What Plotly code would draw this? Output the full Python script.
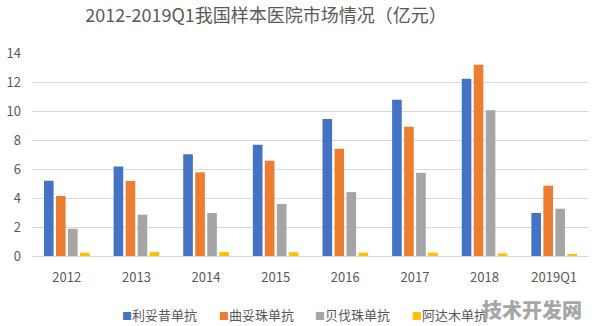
import plotly.graph_objects as go

categories = ["2012", "2013", "2014", "2015", "2016", "2017", "2018", "2019Q1"]
series_names = ["利妥昔单抗", "曲妥珠单抗", "贝伐珠单抗", "阿达木单抗"]
rituximab = [5.19, 6.18, 7.01, 7.68, 9.45, 10.78, 12.23, 2.97]
trastuzumab = [4.14, 5.17, 5.77, 6.57, 7.40, 8.92, 13.19, 4.85]
bevacizumab = [1.88, 2.85, 2.97, 3.59, 4.41, 5.74, 10.05, 3.26]
adalimumab = [0.23, 0.28, 0.28, 0.26, 0.23, 0.23, 0.18, 0.07]
colors = ["#4472C4", "#ED7D31", "#A5A5A5", "#FFC000"]
y_ticks = [0, 2, 4, 6, 8, 10, 12, 14]
title_text = "2012-2019Q1我国样本医院市场情况（亿元）"
watermark = "技术开发网"

FONT = "Noto Sans CJK SC, Microsoft YaHei, sans-serif"
W, H = 596, 326
ML, MR, MT, MB = 32, 7, 53, 70
PW, PH = W - ML - MR, H - MT - MB


def px_x(px):
    return (px - ML) / PW


def px_y(py):
    return (H - MB - py) / PH


fig = go.Figure()
for name, vals, c in zip(series_names, [rituximab, trastuzumab, bevacizumab, adalimumab], colors):
    fig.add_trace(go.Bar(x=categories, y=vals, name=name, showlegend=False,
                         marker=dict(color=c, line=dict(width=0))))

annotations = []
for i, (name, c) in enumerate(zip(series_names, colors)):
    annotations.append(dict(
        text=f"<span style='color:{c};font-size:10px'>■</span>{name}",
        x=px_x(120 + i * 96.5), xref="paper", y=px_y(314), yref="paper",
        xanchor="left", yanchor="middle", showarrow=False,
        font=dict(family=FONT, size=13, color="#595959")))
annotations.append(dict(
    text=watermark, x=px_x(584), xref="paper", y=px_y(309), yref="paper",
    xanchor="right", yanchor="middle", showarrow=False,
    font=dict(family=FONT, size=20, weight=900, color="rgba(150,150,150,0.85)")))

fig.update_layout(
    width=W, height=H,
    margin=dict(l=ML, r=MR, t=MT, b=MB),
    paper_bgcolor="white", plot_bgcolor="white",
    barmode="group", bargap=0.31, bargroupgap=0.2,
    showlegend=False,
    font=dict(family=FONT, color="#595959", size=13),
    title=dict(text=title_text, x=266 / W, xanchor="center",
               y=1 - 16 / H, yanchor="middle",
               font=dict(family=FONT, size=18, color="#595959")),
    xaxis=dict(showgrid=False, showline=True, linecolor="#d9d9d9", linewidth=1,
               ticks="", ticklabelstandoff=9, tickfont=dict(size=13, color="#595959")),
    yaxis=dict(range=[0, 14], tickvals=y_ticks, showgrid=True, gridcolor="#d9d9d9",
               gridwidth=1, zeroline=False, showline=False, ticks="",
               ticklabelstandoff=10, tickfont=dict(size=13, color="#595959")),
    annotations=annotations,
)

fig.write_html("out.html")
